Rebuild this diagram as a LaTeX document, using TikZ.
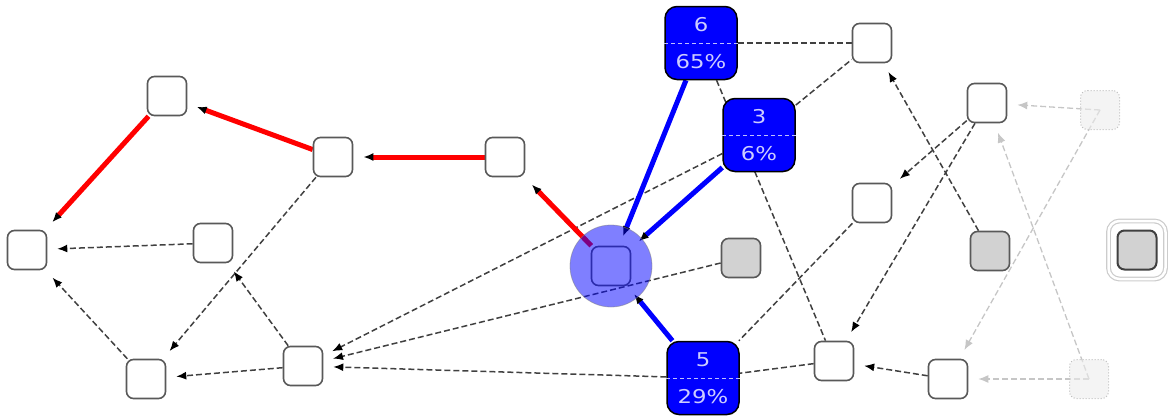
\documentclass[tikz,border=0pt]{standalone}
\usepackage{fontspec}
\newfontfamily\labelfont[FakeStretch=1.2]{DejaVu Sans}
\usetikzlibrary{arrows.meta, backgrounds}

\tikzset{
  plainbox/.style={draw=black!65, line width=1.6pt, fill=white, rounded corners=7pt,
    minimum size=39pt, inner sep=0pt},
  greybox/.style={plainbox, fill=gray!35},
  fadedbox/.style={draw=gray!50, dotted, line width=1pt, fill=gray!15, fill opacity=0.6,
    rounded corners=7pt, minimum size=39pt, inner sep=0pt},
  bluebox/.style={draw=black, line width=1.5pt, fill=blue, rounded corners=12pt,
    minimum width=72pt, minimum height=73pt, inner sep=0pt},
  bluelabel/.style={text=blue!20, font=\labelfont\fontsize{19}{19}\selectfont, inner sep=0pt},
  splitline/.style={draw=blue!25, line width=1pt, dash pattern=on 4pt off 3pt},
  arrowed/.style={-{Latex[length=10pt,width=8pt,color=black]}, shorten >=10pt},
  link/.style={draw=black!75, line width=1.5pt, dash pattern=on 6pt off 3pt},
  fadelink/.style={draw=gray!45, line width=1.3pt, dash pattern=on 6pt off 3pt,
    -{Latex[length=10pt,width=8pt,color=gray!45]}, shorten >=10pt},
  redpath/.style={draw=red, line width=5pt},
  bluepath/.style={draw=blue, line width=5pt},
  halo/.style={circle, fill=blue, fill opacity=0.5, draw=gray, draw opacity=0.5,
    line width=0.8pt, minimum size=82pt, inner sep=0pt},
}

\begin{document}
\begin{tikzpicture}[x=1pt, y=-1pt]
  \useasboundingbox (0,0) rectangle (1171,416);

  % Вершины слева
  \node[plainbox] (A) at (167,96) {};
  \node[plainbox] (B) at (27,250) {};
  \node[plainbox] (C) at (213,243) {};
  \node[plainbox] (D) at (333,157) {};
  \node[plainbox] (E) at (505,157) {};
  \node[plainbox] (F) at (146,379) {};
  \node[plainbox] (G) at (303,366) {};
  \node[plainbox] (H) at (611,266) {};
  \node[greybox] (I) at (741,258) {};

  % Вершины справа
  \node[plainbox] (J) at (872,43) {};
  \node[plainbox] (K) at (987,103) {};
  \node[plainbox] (L) at (872,203) {};
  \node[greybox] (M) at (990,251) {};
  \node[plainbox] (N) at (834,361) {};
  \node[plainbox] (O) at (948,379) {};
  \node[fadedbox] (P) at (1100,110) {};
  \node[fadedbox] (Q) at (1089,379) {};
  \node[draw=gray!40, line width=1.2pt, double=white, double distance=2.5pt,
    rounded corners=11pt, minimum width=57pt, minimum height=58pt] (Rring) at (1137,250) {};
  \node[greybox, draw=black!75, line width=2pt] (R) at (1137,250) {};

  % Блоки с долями
  \node[bluebox] (c6) at (701,43) {};
  \draw[splitline] (c6.west) -- (c6.east);
  \node[bluelabel] (c6n) at ([yshift=18pt]c6.center) {6};
  \node[bluelabel] (c6p) at ([yshift=-19pt]c6.center) {65\%};

  \node[bluebox] (c3) at (759,135) {};
  \draw[splitline] (c3.west) -- (c3.east);
  \node[bluelabel] (c3n) at ([yshift=18pt]c3.center) {3};
  \node[bluelabel] (c3p) at ([yshift=-19pt]c3.center) {6\%};

  \node[bluebox] (c5) at (703,378) {};
  \draw[splitline] (c5.west) -- (c5.east);
  \node[bluelabel] (c5n) at ([yshift=18pt]c5.center) {5};
  \node[bluelabel] (c5p) at ([yshift=-19pt]c5.center) {29\%};

  \begin{pgfonlayer}{background}
    % Пунктирные рёбра
    \draw[link, arrowed] (C) -- (B);
    \draw[link, arrowed] (F) -- (B);
    \draw[link, arrowed] (D) -- (F);
    \draw[link, arrowed] (G) -- (C);
    \draw[link, arrowed] (G) -- (F);
    \draw[link, arrowed] (c3) -- (G);
    \draw[link, arrowed] (I) -- (G);
    \draw[link, arrowed] (c5) -- (G);
    \draw[link, arrowed] (K) -- (L);
    \draw[link, arrowed] (K) -- (N);
    \draw[link, arrowed] (M) -- (J);
    \draw[link, arrowed] (O) -- (N);
    \draw[link] (c6) -- (J);
    \draw[link] (c3) -- (J);
    \draw[link] (c6) -- (N);
    \draw[link] (L) -- (c5);
    \draw[link] (N) -- (c5);

    % Бледные рёбра
    \draw[fadelink] (P.center) -- (K);
    \draw[fadelink] (P.center) -- (O);
    \draw[fadelink] (Q.center) -- (O);
    \draw[fadelink] (Q.center) -- (K);

    % Красный путь
    \draw[redpath, arrowed] (D) -- (A);
    \draw[redpath, arrowed] (E) -- (D);
    \draw[redpath, arrowed] (A) -- (B);
    \draw[redpath, arrowed] (H) -- (E);

    % Синие рёбра
    \draw[bluepath, arrowed] (c6) -- (H);
    \draw[bluepath, arrowed] (c3) -- (H);
    \draw[bluepath, arrowed] (c5) -- (H);
  \end{pgfonlayer}

  % Подсветка вершины
  \node[halo] (Hhalo) at (H) {};
\end{tikzpicture}
\end{document}
